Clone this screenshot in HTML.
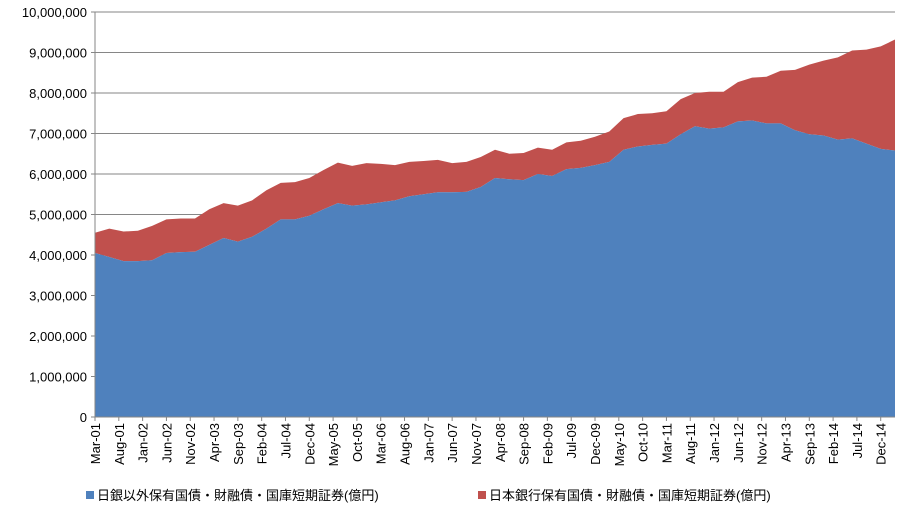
<!DOCTYPE html>
<html><head><meta charset="utf-8"><style>
body{margin:0;background:#fff;}
svg text{font-family:"Liberation Sans","Noto Sans CJK JP",sans-serif;fill:#000;}
</style></head><body>
<svg width="900" height="511">
<g id="grid"></g>
<g id="areas"></g>
<g id="yaxis"></g>
<g id="xaxis"></g>
<g>
<rect x="86" y="491" width="8" height="8" fill="#4f81bd"/>
<text x="97" y="500" font-size="13">日銀以外保有国債・財融債・国庫短期証券(億円)</text>
<rect x="478" y="491" width="8" height="8" fill="#c0504d"/>
<text x="489" y="500" font-size="13">日本銀行保有国債・財融債・国庫短期証券(億円)</text>
</g>
</svg>
<script>
const nonBoj=[4.05,3.95,3.85,3.85,3.87,4.05,4.07,4.08,4.25,4.42,4.33,4.45,4.65,4.88,4.88,4.97,5.13,5.28,5.22,5.25,5.3,5.35,5.45,5.5,5.55,5.55,5.56,5.68,5.9,5.87,5.85,6.0,5.95,6.12,6.15,6.22,6.3,6.6,6.68,6.72,6.75,6.98,7.18,7.12,7.15,7.3,7.32,7.25,7.25,7.08,6.98,6.95,6.85,6.88,6.75,6.62,6.58];
const boj=[0.5,0.7,0.73,0.75,0.85,0.83,0.83,0.82,0.88,0.86,0.89,0.9,0.95,0.9,0.92,0.93,0.97,1.0,0.98,1.02,0.95,0.87,0.85,0.82,0.8,0.72,0.74,0.74,0.7,0.63,0.67,0.65,0.65,0.66,0.67,0.7,0.75,0.78,0.8,0.78,0.8,0.87,0.82,0.91,0.88,0.97,1.06,1.15,1.3,1.49,1.72,1.85,2.03,2.17,2.32,2.53,2.74];
const monthNames=["Jan","Feb","Mar","Apr","May","Jun","Jul","Aug","Sep","Oct","Nov","Dec"];
const yTicks=[0,1,2,3,4,5,6,7,8,9,10];
const X0=95,X1=895,Y0=417,Y1=12,MONTHS=168;
const ns="http://www.w3.org/2000/svg";
const xm=m=>X0+m*(X1-X0)/MONTHS;
const xq=i=>xm(i*3);
const yv=v=>Y0-v*(Y0-Y1)/10;
function mk(t,a,p){const e=document.createElementNS(ns,t);for(const k in a)e.setAttribute(k,a[k]);p.appendChild(e);return e;}
const grid=document.getElementById('grid'),yax=document.getElementById('yaxis'),xax=document.getElementById('xaxis'),areas=document.getElementById('areas');
yTicks.forEach(v=>{
 if(v>0){const l=mk('line',{x1:X0,x2:X1,y1:yv(v),y2:yv(v),stroke:'#868686','stroke-width':1},grid);
 
 }
 const t=mk('text',{x:X0-8,y:yv(v)+5,'text-anchor':'end','font-size':13},yax);
 t.textContent=(v*1000000).toLocaleString('en-US');
 
 
 const tk=mk('line',{x1:X0-4,x2:X0,y1:yv(v),y2:yv(v),stroke:'#868686'},yax);
 
 
});
const n=nonBoj.length;
const topPts=[],botPts=[];
for(let i=0;i<n;i++){botPts.push([xq(i),yv(nonBoj[i])]);topPts.push([xq(i),yv(nonBoj[i]+boj[i])]);}
const d1='M'+xq(0)+','+Y0+' '+botPts.map(p=>'L'+p.join(',')).join(' ')+' L'+xq(n-1)+','+Y0+'Z';
const d2='M'+topPts.map(p=>p.join(',')).join(' L')+' '+botPts.slice().reverse().map(p=>'L'+p.join(',')).join(' ')+'Z';
const a2=mk('path',{d:d2,fill:'#c0504d'},areas);


const a1=mk('path',{d:d1,fill:'#4f81bd'},areas);


mk('line',{x1:X0,x2:X0,y1:Y1,y2:Y0,stroke:'#868686'},yax);
mk('line',{x1:X0,x2:X1,y1:Y0,y2:Y0,stroke:'#868686'},xax);
for(let m=0;m<=MONTHS-3;m+=5){
 const mo=(2+m)%12,yr=1+Math.floor((2+m)/12);
 const lbl=monthNames[mo]+'-'+String(yr).padStart(2,'0');
 const x=xm(m);
 const t=mk('text',{x:0,y:0,'text-anchor':'end','font-size':13,transform:`translate(${x+5},${Y0+6}) rotate(-90)`},xax);
 t.textContent=lbl;
 
 
 mk('line',{x1:x,x2:x,y1:Y0,y2:Y0+4,stroke:'#868686'},xax);
}
</script>
</body></html>
